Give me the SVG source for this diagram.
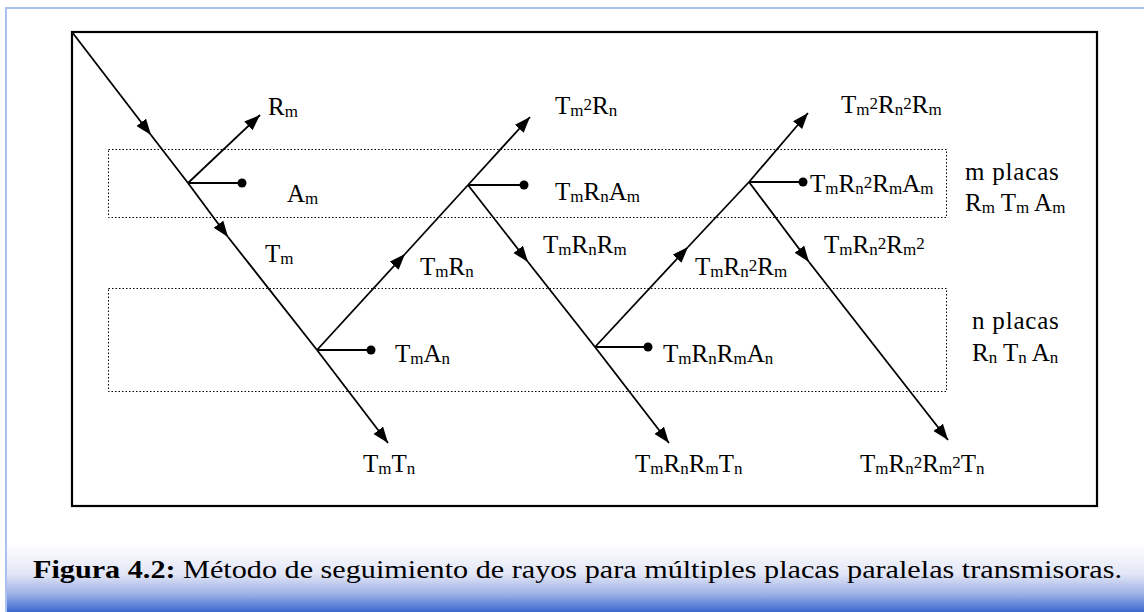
<svg xmlns="http://www.w3.org/2000/svg" width="1144" height="612" viewBox="0 0 1144 612">
<style>
text{font-family:"Liberation Serif","Times New Roman",serif;fill:#000}
.lbl{font-size:25px}
.s{font-size:17px}
.ray{stroke:#000;stroke-width:1.8;fill:none}
.dot{fill:#000}
.plate{fill:none;stroke:#000;stroke-width:1;stroke-dasharray:1.5 2}
.cap{font-size:26px}
</style>
<defs>
<marker id="ah" markerUnits="userSpaceOnUse" markerWidth="18" markerHeight="14" refX="16" refY="6" orient="auto" viewBox="0 0 18 14">
<path d="M0,0 L16,6 L0,12 z" fill="#000"/>
</marker>
<linearGradient id="band" x1="0" y1="0" x2="0" y2="1">
<stop offset="0" stop-color="#ffffff"/>
<stop offset="0.45" stop-color="#e2e6f6"/>
<stop offset="0.75" stop-color="#9aaee4"/>
<stop offset="1" stop-color="#3a68d0"/>
</linearGradient>
</defs>
<rect width="1144" height="612" fill="#fff"/>
<rect x="6" y="543" width="1138" height="69" fill="url(#band)"/>
<g id="frame">
<path d="M6,612 L6,8 L1144,8" fill="none" stroke="#a9c0f0" stroke-width="2"/>
<rect x="72" y="32" width="1025" height="474" fill="none" stroke="#000" stroke-width="2.2"/>
</g>
<g id="plate-m"><rect class="plate" x="108.5" y="149.5" width="838" height="68"/></g>
<g id="plate-n"><rect class="plate" x="108.5" y="288.5" width="838" height="103"/></g>
<g id="connectors">
<line class="ray" x1="72" y1="32" x2="151" y2="135" marker-end="url(#ah)"/>
<line class="ray" x1="151" y1="135" x2="188" y2="183"/>
<line class="ray" x1="188" y1="183" x2="228" y2="237" marker-end="url(#ah)"/>
<line class="ray" x1="228" y1="237" x2="317" y2="350"/>
<line class="ray" x1="317" y1="350" x2="388" y2="443" marker-end="url(#ah)"/>
<line class="ray" x1="188" y1="183" x2="260" y2="115" marker-end="url(#ah)"/>
<line class="ray" x1="188" y1="183" x2="242" y2="183"/>
<line class="ray" x1="317" y1="350" x2="405" y2="254" marker-end="url(#ah)"/>
<line class="ray" x1="405" y1="254" x2="468" y2="185"/>
<line class="ray" x1="317" y1="350" x2="371" y2="350"/>
<line class="ray" x1="468" y1="185" x2="530" y2="117" marker-end="url(#ah)"/>
<line class="ray" x1="468" y1="185" x2="524" y2="185"/>
<line class="ray" x1="468" y1="185" x2="528" y2="262" marker-end="url(#ah)"/>
<line class="ray" x1="528" y1="262" x2="595" y2="347"/>
<line class="ray" x1="595" y1="347" x2="648" y2="347"/>
<line class="ray" x1="595" y1="347" x2="669" y2="443" marker-end="url(#ah)"/>
<line class="ray" x1="595" y1="347" x2="688" y2="247" marker-end="url(#ah)"/>
<line class="ray" x1="688" y1="247" x2="749" y2="182"/>
<line class="ray" x1="749" y1="182" x2="808" y2="113" marker-end="url(#ah)"/>
<line class="ray" x1="749" y1="182" x2="803" y2="182"/>
<line class="ray" x1="749" y1="182" x2="809" y2="262" marker-end="url(#ah)"/>
<line class="ray" x1="809" y1="262" x2="948" y2="440" marker-end="url(#ah)"/>
<circle class="dot" cx="242" cy="183" r="4.5"/>
<circle class="dot" cx="371" cy="350" r="4.5"/>
<circle class="dot" cx="524" cy="185" r="4.5"/>
<circle class="dot" cx="648" cy="347" r="4.5"/>
<circle class="dot" cx="803" cy="182" r="4.5"/>
</g>
<g id="labels" class="lbl">
<text class="lbl" x="268" y="115">R<tspan class="s" dy="2">m</tspan></text>
<text class="lbl" x="287" y="202">A<tspan class="s" dy="2">m</tspan></text>
<text class="lbl" x="265" y="262">T<tspan class="s" dy="2">m</tspan></text>
<text class="lbl" x="420" y="275">T<tspan class="s" dy="2">m</tspan><tspan dy="-2">R</tspan><tspan class="s" dy="2">n</tspan></text>
<text class="lbl" x="555" y="114">T<tspan class="s" dy="2">m</tspan><tspan class="s" dy="-6">2</tspan><tspan dy="4">R</tspan><tspan class="s" dy="2">n</tspan></text>
<text class="lbl" x="555" y="200">T<tspan class="s" dy="2">m</tspan><tspan dy="-2">R</tspan><tspan class="s" dy="2">n</tspan><tspan dy="-2">A</tspan><tspan class="s" dy="2">m</tspan></text>
<text class="lbl" x="543" y="253">T<tspan class="s" dy="2">m</tspan><tspan dy="-2">R</tspan><tspan class="s" dy="2">n</tspan><tspan dy="-2">R</tspan><tspan class="s" dy="2">m</tspan></text>
<text class="lbl" x="695" y="275">T<tspan class="s" dy="2">m</tspan><tspan dy="-2">R</tspan><tspan class="s" dy="2">n</tspan><tspan class="s" dy="-6">2</tspan><tspan dy="4">R</tspan><tspan class="s" dy="2">m</tspan></text>
<text class="lbl" x="841" y="113">T<tspan class="s" dy="2">m</tspan><tspan class="s" dy="-6">2</tspan><tspan dy="4">R</tspan><tspan class="s" dy="2">n</tspan><tspan class="s" dy="-6">2</tspan><tspan dy="4">R</tspan><tspan class="s" dy="2">m</tspan></text>
<text class="lbl" x="810" y="192">T<tspan class="s" dy="2">m</tspan><tspan dy="-2">R</tspan><tspan class="s" dy="2">n</tspan><tspan class="s" dy="-6">2</tspan><tspan dy="4">R</tspan><tspan class="s" dy="2">m</tspan><tspan dy="-2">A</tspan><tspan class="s" dy="2">m</tspan></text>
<text class="lbl" x="824" y="253">T<tspan class="s" dy="2">m</tspan><tspan dy="-2">R</tspan><tspan class="s" dy="2">n</tspan><tspan class="s" dy="-6">2</tspan><tspan dy="4">R</tspan><tspan class="s" dy="2">m</tspan><tspan class="s" dy="-6">2</tspan></text>
<text class="lbl" x="395" y="362">T<tspan class="s" dy="2">m</tspan><tspan dy="-2">A</tspan><tspan class="s" dy="2">n</tspan></text>
<text class="lbl" x="363" y="472">T<tspan class="s" dy="2">m</tspan><tspan dy="-2">T</tspan><tspan class="s" dy="2">n</tspan></text>
<text class="lbl" x="663" y="362">T<tspan class="s" dy="2">m</tspan><tspan dy="-2">R</tspan><tspan class="s" dy="2">n</tspan><tspan dy="-2">R</tspan><tspan class="s" dy="2">m</tspan><tspan dy="-2">A</tspan><tspan class="s" dy="2">n</tspan></text>
<text class="lbl" x="635" y="472">T<tspan class="s" dy="2">m</tspan><tspan dy="-2">R</tspan><tspan class="s" dy="2">n</tspan><tspan dy="-2">R</tspan><tspan class="s" dy="2">m</tspan><tspan dy="-2">T</tspan><tspan class="s" dy="2">n</tspan></text>
<text class="lbl" x="860" y="472">T<tspan class="s" dy="2">m</tspan><tspan dy="-2">R</tspan><tspan class="s" dy="2">n</tspan><tspan class="s" dy="-6">2</tspan><tspan dy="4">R</tspan><tspan class="s" dy="2">m</tspan><tspan class="s" dy="-6">2</tspan><tspan dy="4">T</tspan><tspan class="s" dy="2">n</tspan></text>
<text class="lbl" x="965" y="180" letter-spacing="0.8">m placas</text>
<text class="lbl" x="965" y="211">R<tspan class="s" dy="2">m</tspan><tspan dy="-2"> T</tspan><tspan class="s" dy="2">m</tspan><tspan dy="-2">  A</tspan><tspan class="s" dy="2">m</tspan></text>
<text class="lbl" x="972" y="329" letter-spacing="0.8">n placas</text>
<text class="lbl" x="972" y="361">R<tspan class="s" dy="2">n</tspan><tspan dy="-2"> T</tspan><tspan class="s" dy="2">n</tspan><tspan dy="-2">  A</tspan><tspan class="s" dy="2">n</tspan></text>
</g>
<g id="caption">
<text class="cap" x="33" y="578" textLength="1089" lengthAdjust="spacingAndGlyphs"><tspan font-weight="bold">Figura 4.2:</tspan> Método de seguimiento de rayos para múltiples placas paralelas transmisoras.</text>
</g>
</svg>
